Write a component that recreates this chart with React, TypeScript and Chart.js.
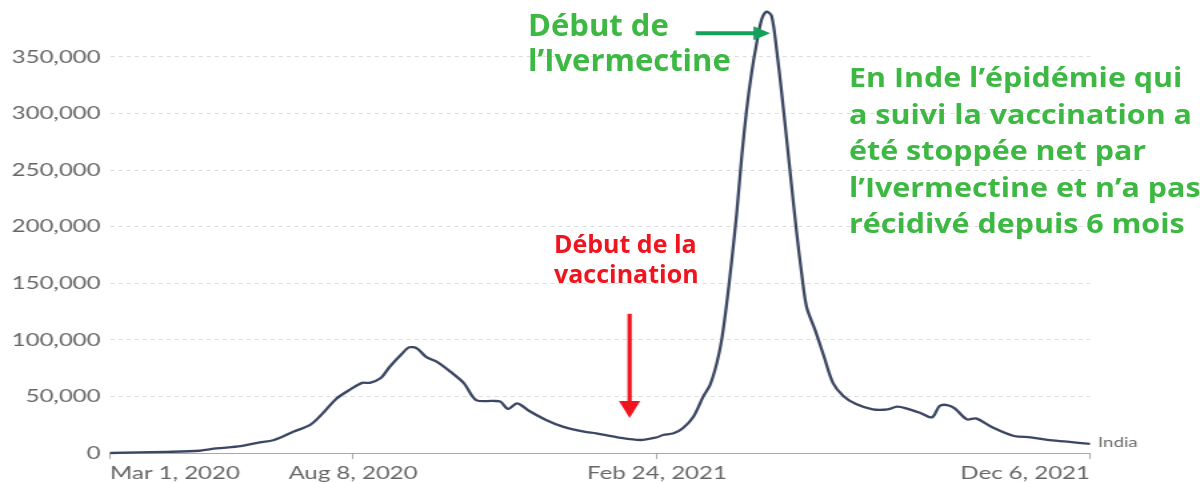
import React, { useEffect, useRef } from 'react';
import { Chart, registerables } from 'chart.js';

Chart.register(...registerables);

// Days since Mar 1, 2020
const days = [
  0, 37, 59, 70, 86, 97, 108, 121, 132, 140, 149, 158, 166, 171, 178, 184, 192, 197, 202, 208,
  215, 224, 233, 241, 252, 257, 262, 268, 276, 287, 298, 312, 320, 334, 349, 360, 364, 371, 377, 384,
  390.5, 394.9, 399.3, 402.6, 405.9, 409.2, 412.5, 415.8, 419, 422.3, 425.6, 428.9, 432.2, 435.5, 438.8, 442.1, 445.4, 448.7, 452, 455.2,
  458.5, 464, 470, 476, 483, 491, 502, 512, 518, 524, 533, 541, 546, 551, 556, 564, 570, 581, 595, 606,
  617, 630, 645,
];

// Daily new confirmed cases (7-day average), India
const cases = [
  0, 1000, 2000, 4000, 6000, 9000, 11500, 19000, 25000, 35000, 48000, 56000, 62000, 62000, 66000, 76000, 87500, 93400, 92500, 85000,
  80700, 71900, 61600, 46800, 46000, 45400, 38900, 43900, 37100, 29200, 23300, 18800, 17400, 13900, 11500, 13900, 15900, 17400, 21800, 32000,
  50000, 60000, 79000, 100000, 132000, 170000, 212000, 262000, 303000, 336000, 362000, 383000, 390000, 386000, 356000, 318000, 277000, 235000, 194000, 159000,
  129000, 109000, 85000, 61600, 50000, 43300, 38600, 38600, 41000, 39500, 35600, 31500, 41500, 42400, 39500, 29700, 30600, 22600, 15000, 13900,
  11500, 10000, 8000,
];

const xTickDays = [0, 160, 360, 645];
const xTickLabels = ['Mar 1, 2020', 'Aug 8, 2020', 'Feb 24, 2021', 'Dec 6, 2021'];
const yTickValues = [0, 50000, 100000, 150000, 200000, 250000, 300000, 350000];
const seriesName = 'India';

const vaccinationArrow = { day: 342, fromValue: 123000, toValue: 31000 };
const ivermectinArrow = { value: 371000, fromDay: 385.5, toDay: 434.5 };

const CSS_W = 1200;
const CSS_H = 482;
const CANVAS_W = 900;
const SX = CSS_W / CANVAS_W;

const GREEN_TEXT = '#3db843';
const GREEN_ARROW = '#14a05a';
const RED = '#f0141e';

const annotate = {
  id: 'annotate',
  afterDatasetsDraw(chart: any) {
    const { ctx } = chart;
    const x = chart.scales.x;
    const y = chart.scales.y;
    const meta = chart.getDatasetMeta(0);
    const last = meta.data[meta.data.length - 1];
    ctx.save();
    // series label
    ctx.font = '14px Lato';
    ctx.fillStyle = '#6a6a6a';
    ctx.textAlign = 'left';
    ctx.textBaseline = 'middle';
    ctx.fillText(seriesName, last.x + 6, last.y - 1);

    // red vertical arrow
    const ax = x.getPixelForValue(vaccinationArrow.day);
    const ay1 = y.getPixelForValue(vaccinationArrow.fromValue);
    const ay2 = y.getPixelForValue(vaccinationArrow.toValue);
    ctx.strokeStyle = RED;
    ctx.fillStyle = RED;
    ctx.lineWidth = 3.2;
    ctx.beginPath();
    ctx.moveTo(ax, ay1);
    ctx.lineTo(ax, ay2 - 12);
    ctx.stroke();
    ctx.beginPath();
    ctx.moveTo(ax - 8, ay2 - 17);
    ctx.lineTo(ax + 8, ay2 - 17);
    ctx.lineTo(ax, ay2);
    ctx.closePath();
    ctx.fill();

    // green horizontal arrow
    const gy = y.getPixelForValue(ivermectinArrow.value);
    const gx1 = x.getPixelForValue(ivermectinArrow.fromDay);
    const gx2 = x.getPixelForValue(ivermectinArrow.toDay);
    ctx.strokeStyle = GREEN_ARROW;
    ctx.fillStyle = GREEN_ARROW;
    ctx.lineWidth = 4;
    ctx.beginPath();
    ctx.moveTo(gx1, gy);
    ctx.lineTo(gx2 - 10, gy);
    ctx.stroke();
    ctx.beginPath();
    ctx.moveTo(gx2 - 12.5, gy - 7);
    ctx.lineTo(gx2 - 12.5, gy + 7);
    ctx.lineTo(gx2, gy);
    ctx.closePath();
    ctx.fill();
    ctx.restore();
  },
};

export default function App() {
  const canvasRef = useRef<HTMLCanvasElement | null>(null);

  useEffect(() => {
    const canvas = canvasRef.current;
    if (!canvas) return;
    const chart = new Chart(canvas, {
      type: 'line',
      data: {
        datasets: [
          {
            label: seriesName,
            data: days.map((d, i) => ({ x: d, y: cases[i] })),
            borderColor: '#3b4762',
            borderWidth: 2.3,
            pointRadius: 0,
            fill: false,
            tension: 0.3,
            clip: false as any,
          },
        ],
      },
      options: {
        responsive: false,
        animation: false,
        devicePixelRatio: 1,
        layout: { padding: { top: 6, right: CANVAS_W - 1090 / SX, left: 0, bottom: 0 } },
        plugins: { legend: { display: false }, tooltip: { enabled: false } },
        scales: {
          x: {
            type: 'linear',
            min: 0,
            max: 645,
            afterBuildTicks: (s: any) => {
              s.ticks = xTickDays.map((v) => ({ value: v }));
            },
            afterFit: (s: any) => {
              s.height = 29;
              s.paddingLeft = 0;
              s.paddingRight = 0;
            },
            ticks: {
              autoSkip: false,
              maxRotation: 0,
              align: 'inner',
              padding: 3,
              color: '#666666',
              font: { family: 'Lato', size: 18 },
              callback: (v: any) => {
                const i = xTickDays.indexOf(Number(v));
                return i >= 0 ? xTickLabels[i] : '';
              },
            },
            grid: { display: true, drawOnChartArea: false, drawTicks: true, tickLength: 6, color: '#a8a8a8' },
            border: { display: true, color: '#a8a8a8', width: 1 },
          },
          y: {
            type: 'linear',
            min: 0,
            max: 395000,
            afterBuildTicks: (s: any) => {
              s.ticks = yTickValues.map((v) => ({ value: v }));
            },
            afterFit: (s: any) => {
              s.width = 110 / SX;
              s.paddingTop = 0;
              s.paddingBottom = 0;
            },
            ticks: {
              autoSkip: false,
              padding: 7,
              color: '#666666',
              font: { family: 'Lato', size: 18 },
              callback: (v: any) => Number(v).toLocaleString('en-US'),
            },
            grid: { color: '#dcdcdc', drawTicks: false, lineWidth: 1 },
            border: { display: false, dash: [3, 3] },
          },
        },
      },
      plugins: [annotate],
    } as any);
    return () => chart.destroy();
  }, []);

  const green: React.CSSProperties = {
    position: 'absolute',
    fontFamily: '"Open Sans", sans-serif',
    fontWeight: 700,
    color: GREEN_TEXT,
    whiteSpace: 'nowrap',
  };

  return (
    <div
      style={{
        position: 'fixed',
        left: 0,
        top: 0,
        width: CSS_W,
        height: CSS_H,
        background: '#ffffff',
        overflow: 'hidden',
      }}
    >
      <canvas
        ref={canvasRef}
        width={CANVAS_W}
        height={CSS_H}
        style={{ width: CSS_W + 'px', height: CSS_H + 'px', display: 'block' }}
      />
      <div style={{ ...green, left: 528, top: 7, fontSize: 31, lineHeight: '35px' }}>
        Début de
        <br />
        l’Ivermectine
      </div>
      <div
        style={{
          ...green,
          color: RED,
          left: 554,
          top: 228,
          fontSize: 25,
          lineHeight: '30px',
        }}
      >
        Début de la
        <br />
        vaccination
      </div>
      <div
        style={{
          ...green,
          left: 849,
          top: 59,
          fontSize: 26,
          lineHeight: '36.5px',
          transform: 'scaleX(1.17)',
          transformOrigin: 'left top',
        }}
      >
        En Inde l’épidémie qui
        <br />
        a suivi la vaccination a
        <br />
        été stoppée net par
        <br />
        l’Ivermectine et n’a pas
        <br />
        récidivé depuis 6 mois
      </div>
    </div>
  );
}
